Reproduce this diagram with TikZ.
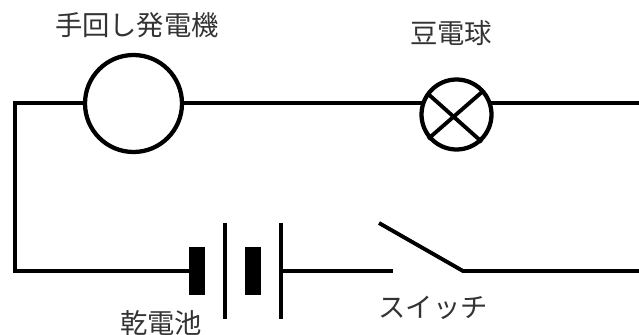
\documentclass[tikz,border=0pt]{standalone}
\usepackage{fontspec}
\newfontfamily\cjk{Noto Sans CJK JP}
\tikzset{
  wire/.style={line width=2.9pt,line join=miter},
  plate/.style={line width=3pt},
  cell/.style={fill=black,draw=none,minimum width=12pt,minimum height=36pt,inner sep=0pt},
  lab/.style={font=\cjk\fontsize{20.5pt}{22pt}\selectfont,text=black!80,inner sep=0pt},
  gen/.style={circle,draw,line width=3.2pt,minimum size=72.75pt,inner sep=0pt,fill=white},
  lamp/.style={circle,draw,line width=3.2pt,minimum size=52.5pt,inner sep=0pt,fill=white}
}
\begin{document}
\begin{tikzpicture}[x=0.75pt,y=-0.75pt]
\useasboundingbox (0,0) rectangle (639,335);
\coordinate (tl) at (15,103);
\coordinate (bl) at (15,271);
\coordinate (tr) at (639,103);
\coordinate (br) at (639,271);
\coordinate (swa) at (393,271);
\coordinate (swb) at (463,271);
\coordinate (swt) at (379,223);
\node[gen] (g) at (133.5,103.5) {};
\node[lamp] (l) at (456.5,114.5) {};
\coordinate (la) at (427,93);
\coordinate (lb) at (482,142);
\coordinate (lc) at (428,139);
\coordinate (ld) at (482,92);
\coordinate (lw) at (422,103);
\coordinate (le) at (491,103);
\draw[wire] (g.west |- tl) -- (tl) -- (bl) -- (197,271);
\draw[wire] (g.east |- tl) -- (lw);
\draw[wire] (le) -- (tr);
\draw[wire] (la) -- (lb);
\draw[wire] (lc) -- (ld);
\node[cell] (c1) at (197,271) {};
\node[cell] (c2) at (253,271) {};
\coordinate (p1t) at (225,223); \coordinate (p1b) at (225,319);
\coordinate (p2t) at (281,223); \coordinate (p2b) at (281,319);
\coordinate (p2m) at (281,271);
\draw[plate] (p1t) -- (p1b);
\draw[plate] (p2t) -- (p2b);
\draw[wire] (p2m) -- (swa);
\draw[wire] (swt) -- (swb) -- (br);
\node[lab] at (137,25) {手回し発電機};
\node[lab] at (451,33) {豆電球};
\node[lab] at (161,323) {乾電池};
\node[lab] at (433,308) {スイッチ};
\end{tikzpicture}
\end{document}
